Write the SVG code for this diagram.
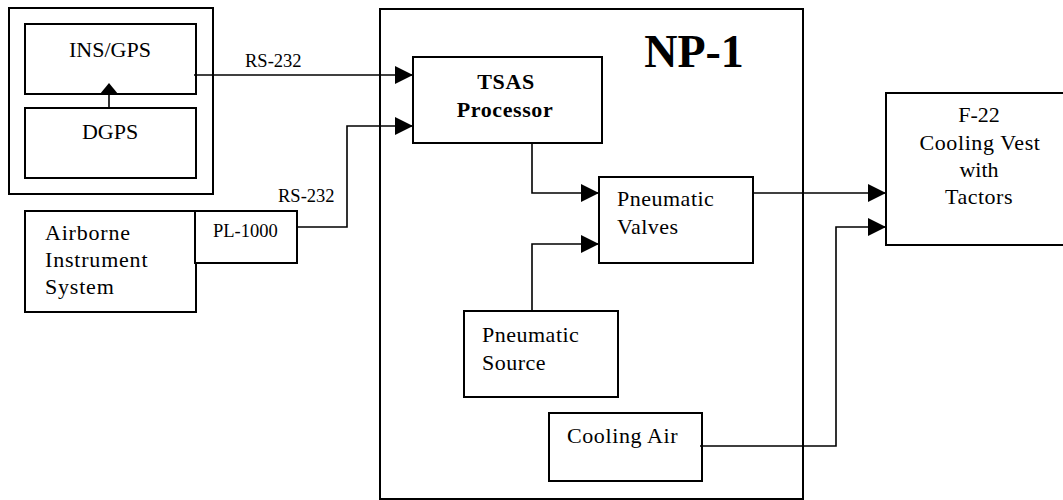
<svg xmlns="http://www.w3.org/2000/svg" width="1063" height="500" viewBox="0 0 1063 500">
  <defs>
    <style>
      .box { fill: #fff; stroke: #000; stroke-width: 2; }
      .frame { fill: none; stroke: #000; stroke-width: 2; }
      .wire { fill: none; stroke: #000; stroke-width: 1.6; }
      .head { fill: #000; stroke: none; }
      .t { font-family: "Liberation Serif", "Times New Roman", serif; font-size: 22px; fill: #000; }
      .s { font-family: "Liberation Serif", "Times New Roman", serif; font-size: 18.5px; fill: #000; }
      .b { font-weight: bold; }
      .c { text-anchor: middle; }
    </style>
    <marker id="arrow" markerUnits="userSpaceOnUse" markerWidth="18" markerHeight="18" viewBox="0 0 17 17" refX="17" refY="8.5" orient="auto">
      <path d="M0,0 L17,8.5 L0,17 Z" fill="#000"/>
    </marker>
  </defs>

  <!-- navigation enclosure -->
  <g id="nav-enclosure">
    <rect class="frame" x="9" y="8" width="204" height="186"/>
  </g>
  <g id="ins-gps">
    <rect class="box" x="25" y="24" width="171" height="70"/>
    <text class="t c" x="110" y="57">INS/GPS</text>
  </g>
  <g id="dgps">
    <rect class="box" x="25" y="108" width="171" height="70"/>
    <text class="t c" x="110" y="139">DGPS</text>
  </g>

  <!-- airborne instrument system with PL-1000 -->
  <g id="airborne">
    <rect class="box" x="25" y="211" width="171" height="101"/>
    <text class="t" x="45" y="240" letter-spacing="0.8">Airborne</text>
    <text class="t" x="45" y="267" letter-spacing="0.8">Instrument</text>
    <text class="t" x="45" y="294" letter-spacing="0.8">System</text>
  </g>
  <g id="pl-1000">
    <rect class="box" x="195" y="211" width="102" height="52"/>
    <text class="s" x="213" y="237">PL-1000</text>
  </g>

  <!-- NP-1 enclosure -->
  <g id="np-1">
    <rect class="frame" x="380" y="9" width="423" height="490"/>
    <text class="c b" x="694" y="67" font-family="'Liberation Serif', 'Times New Roman', serif" font-size="46">NP-1</text>
  </g>
  <g id="tsas">
    <rect class="box" x="413" y="57" width="189" height="86"/>
    <text class="t b c" x="506" y="89" letter-spacing="0.6">TSAS</text>
    <text class="t b c" x="505" y="117" letter-spacing="0.6">Processor</text>
  </g>
  <g id="valves">
    <rect class="box" x="599" y="177" width="154" height="86"/>
    <text class="t" x="617" y="206" letter-spacing="0.5">Pneumatic</text>
    <text class="t" x="617" y="234" letter-spacing="0.5">Valves</text>
  </g>
  <g id="source">
    <rect class="box" x="464" y="311" width="154" height="86"/>
    <text class="t" x="482" y="342" letter-spacing="0.5">Pneumatic</text>
    <text class="t" x="482" y="370" letter-spacing="0.5">Source</text>
  </g>
  <g id="cooling-air">
    <rect class="box" x="549" y="413" width="153" height="68"/>
    <text class="t" x="567" y="443" letter-spacing="0.6">Cooling Air</text>
  </g>

  <!-- cooling vest -->
  <g id="vest">
    <rect class="box" x="886" y="93" width="190" height="152"/>
    <text class="t c" x="979" y="122">F-22</text>
    <text class="t c" x="980" y="150" letter-spacing="0.6">Cooling Vest</text>
    <text class="t c" x="979" y="177">with</text>
    <text class="t c" x="979" y="204" letter-spacing="0.5">Tactors</text>
  </g>

  <!-- connectors -->
  <g id="connectors">
    <path class="wire" d="M109,108 L109,92"/>
    <path class="head" d="M100,94 L118,94 L109,83 Z"/>
    <path class="wire" d="M194,75 L413,75" marker-end="url(#arrow)"/>
    <path class="wire" d="M297,227 L347,227 L347,126 L413,126" marker-end="url(#arrow)"/>
    <path class="wire" d="M532,143 L532,193 L599,193" marker-end="url(#arrow)"/>
    <path class="wire" d="M532,311 L532,244 L599,244" marker-end="url(#arrow)"/>
    <path class="wire" d="M753,193 L886,193" marker-end="url(#arrow)"/>
    <path class="wire" d="M700,446 L836,446 L836,227 L886,227" marker-end="url(#arrow)"/>
    <text class="s" x="245" y="67">RS-232</text>
    <text class="s" x="278" y="202">RS-232</text>
  </g>
</svg>
